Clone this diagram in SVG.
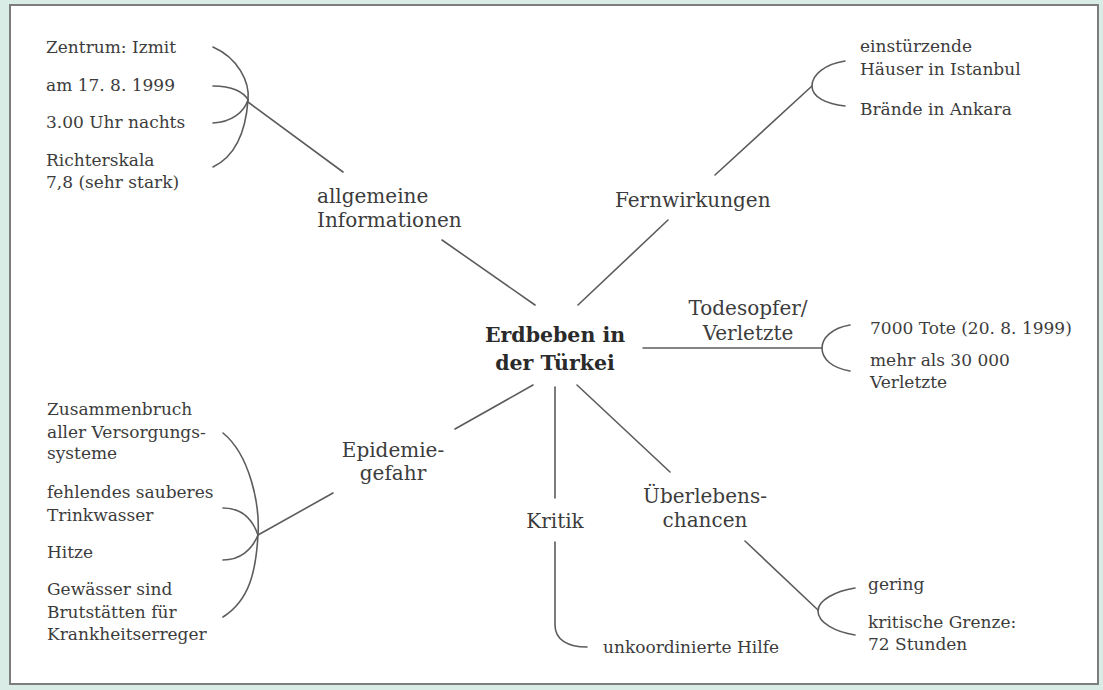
<svg xmlns="http://www.w3.org/2000/svg" width="1103" height="690" viewBox="0 0 1103 690">
<style>
.leaf{font-family:"DejaVu Serif","Liberation Serif",serif;font-size:17px;fill:#3c3c3c}
.branch{font-family:"DejaVu Serif","Liberation Serif",serif;font-size:20px;fill:#3c3c3c}
.center{font-family:"DejaVu Serif","Liberation Serif",serif;font-size:20.5px;font-weight:bold;fill:#2a2a2a}
.c{fill:none;stroke:#5c5c5c;stroke-width:1.6;stroke-linecap:round}
</style>
<rect x="0" y="0" width="1103" height="690" fill="#d9ede6"/>
<rect x="10" y="5" width="1088" height="679" fill="#ffffff" stroke="#7d7d7d" stroke-width="2"/>
<g id="connectors">
<path class="c" d="M213,47 C238,58 250,82 248,100 C246,128 238,155 213,167"/>
<path class="c" d="M213,86 C232,86 244,92 248,100"/>
<path class="c" d="M213,123 C232,122 244,112 248,100"/>
<path class="c" d="M248,102 L343,172"/>
<path class="c" d="M442,240 L535,305"/>
<path class="c" d="M578,305 L668,220"/>
<path class="c" d="M715,175 L812,86"/>
<path class="c" d="M845,61 C826,64 812,74 812,86 C812,97 826,104 845,106"/>
<path class="c" d="M643,348 L822,348"/>
<path class="c" d="M850,325 C832,328 822,338 822,348 C822,359 832,368 850,371"/>
<path class="c" d="M533,385 L455,429"/>
<path class="c" d="M333,493 L258,535"/>
<path class="c" d="M223,433 C250,455 260,505 258,535 C256,570 250,600 223,617"/>
<path class="c" d="M223,508 C240,508 252,518 258,535"/>
<path class="c" d="M223,560 C240,560 252,550 258,535"/>
<path class="c" d="M555,387 L555,498"/>
<path class="c" d="M555,542 L555,625 C555,640 568,647 587,647"/>
<path class="c" d="M577,385 L670,472"/>
<path class="c" d="M745,541 L818,610"/>
<path class="c" d="M855,588 C836,591 818,600 818,611 C818,623 836,632 855,635"/>
</g>
<g id="center">
<text class="center" x="555" y="342" text-anchor="middle">Erdbeben in</text>
<text class="center" x="555" y="370" text-anchor="middle">der Türkei</text>
</g>
<g id="allgemeine">
<text class="branch" x="317" y="203">allgemeine</text>
<text class="branch" x="317" y="227">Informationen</text>
</g>
<g id="allgemeine-leaves">
<text class="leaf" x="46" y="53">Zentrum: Izmit</text>
<text class="leaf" x="46" y="91">am 17. 8. 1999</text>
<text class="leaf" x="46" y="128">3.00 Uhr nachts</text>
<text class="leaf" x="46" y="166">Richterskala</text>
<text class="leaf" x="46" y="188">7,8 (sehr stark)</text>
</g>
<g id="fernwirkungen">
<text class="branch" x="615" y="207">Fernwirkungen</text>
</g>
<g id="fernwirkungen-leaves">
<text class="leaf" x="860" y="52">einstürzende</text>
<text class="leaf" x="860" y="75">Häuser in Istanbul</text>
<text class="leaf" x="860" y="115">Brände in Ankara</text>
</g>
<g id="todesopfer">
<text class="branch" x="748" y="315" text-anchor="middle">Todesopfer/</text>
<text class="branch" x="748" y="340" text-anchor="middle">Verletzte</text>
</g>
<g id="todesopfer-leaves">
<text class="leaf" x="870" y="334">7000 Tote (20. 8. 1999)</text>
<text class="leaf" x="870" y="366">mehr als 30 000</text>
<text class="leaf" x="870" y="388">Verletzte</text>
</g>
<g id="epidemie">
<text class="branch" x="393" y="457" text-anchor="middle">Epidemie-</text>
<text class="branch" x="393" y="480" text-anchor="middle">gefahr</text>
</g>
<g id="epidemie-leaves">
<text class="leaf" x="47" y="415">Zusammenbruch</text>
<text class="leaf" x="47" y="438">aller Versorgungs-</text>
<text class="leaf" x="47" y="459">systeme</text>
<text class="leaf" x="47" y="498">fehlendes sauberes</text>
<text class="leaf" x="47" y="521">Trinkwasser</text>
<text class="leaf" x="47" y="558">Hitze</text>
<text class="leaf" x="47" y="595">Gewässer sind</text>
<text class="leaf" x="47" y="618">Brutstätten für</text>
<text class="leaf" x="47" y="640">Krankheitserreger</text>
</g>
<g id="kritik">
<text class="branch" x="555" y="528" text-anchor="middle">Kritik</text>
</g>
<g id="kritik-leaves">
<text class="leaf" x="603" y="653">unkoordinierte Hilfe</text>
</g>
<g id="ueberleben">
<text class="branch" x="705" y="503" text-anchor="middle">Überlebens-</text>
<text class="branch" x="705" y="527" text-anchor="middle">chancen</text>
</g>
<g id="ueberleben-leaves">
<text class="leaf" x="868" y="590">gering</text>
<text class="leaf" x="868" y="628">kritische Grenze:</text>
<text class="leaf" x="868" y="650">72 Stunden</text>
</g>
</svg>
